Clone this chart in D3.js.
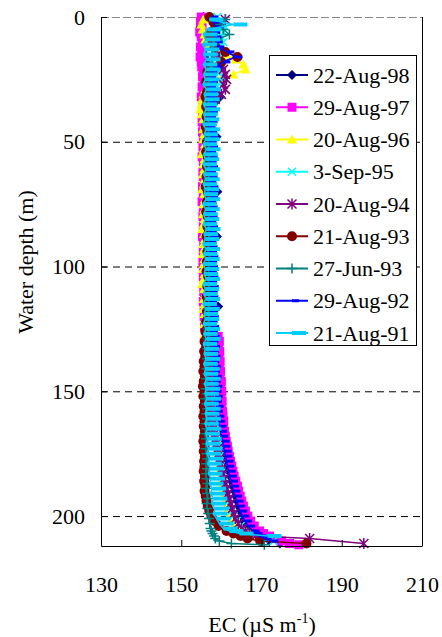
<!DOCTYPE html>
<html>
<head>
<meta charset="utf-8">
<script src="https://cdn.jsdelivr.net/npm/d3@7"></script>
<style>
  body { margin: 0; background: #fff; }
  svg { display: block; }
</style>
</head>
<body>
<svg id="chart" width="442" height="637"></svg>
<script>
// Water depth (m) of the readings; two cast grids (even and odd metres)
const depthsEven = [0,2,4,6,8,10,12,14,16,18,20,22,24,26,28,30,32,34,36,38,
  40,42,44,46,48,50,52,54,56,58,60,62,64,66,68,70,72,74,76,78,
  80,82,84,86,88,90,92,94,96,98,100,102,104,106,108,110,112,114,116,118,
  120,122,124,126,128,130,132,134,136,138,140,142,144,146,148,150,152,154,156,158,
  160,162,164,166,168,170,172,174,176,178,180,182,184,186,188,190,192,194,196,198,
  200,202,204,206,207,208,209,210,211,211.5];
const depthsOdd = [1,3,5,7,9,11,13,15,17,19,21,23,25,27,29,31,33,35,37,39,
  41,43,45,47,49,51,53,55,57,59,61,63,65,67,69,71,73,75,77,79,
  81,83,85,87,89,91,93,95,97,99,101,103,105,107,109,111,113,115,117,119,
  121,123,125,127,129,131,133,135,137,139,141,143,145,147,149,151,153,155,157,159,
  161,163,165,167,169,171,173,175,177,179,181,183,185,187,189,191,193,195,197,199,
  201,203,205,206,207,208,209,210,211,211.5];

const seriesNames = ['22-Aug-98','29-Aug-97','20-Aug-96','3-Sep-95','20-Aug-94','21-Aug-93','27-Jun-93','29-Aug-92','21-Aug-91'];
const seriesColors = ['#000080','#ff00ff','#ffff00','#00ffff','#800080','#800000','#008080','#0000ff','#00ccff'];
const seriesMarkers = ['diamond','square','triangle','cross','star','circle','plus','dash','longdash'];

// EC (uS/m) per cast
const ec98 = [155.5,155,154.8,155.2,155,155.5,155,155.3,155.8,156,
  155.5,155.8,156.2,156.5,157.5,158.5,159.7,158.5,157.5,157,
  157.2,157.6,157,157.4,158.8,157.3,157.1,157.5,157.2,157.6,
  157.1,157.4,157.7,157.2,157.5,159,157.3,157.1,157.6,157.3,
  157.4,157.1,157.6,157.2,158.9,157.4,157.2,157.7,157.3,157.5,
  157.2,157.6,157.3,157.1,157.5,157.8,157.3,157.6,159.2,157.4,
  157.6,157.3,157.8,157.4,157.6,157.9,157.5,157.8,158.8,157.7,
  158,157.7,158.1,157.8,158.2,158,158.4,158.1,158.5,158.3,
  158.6,158.9,159.1,159.4,159.7,160,160.2,160.6,160.8,161.2,
  161.5,161.8,162.2,162.5,162.8,163.2,163.5,163.9,164.2,164.6,
  165,165.6,166.4,167.4,
  168,168.8,170,172,174.6,null];
const ec97 = [155,154.8,155.2,154.6,155,155.3,154.8,155.1,154.7,155,
  155.1,155.5,155.3,155.7,155.2,155.5,155,155.4,155.7,155.3,
  155.5,155.2,155.6,155.3,155.5,155.8,155.4,155.6,155.2,155.5,
  155.7,155.4,155.5,155.8,155.3,155.6,155.5,155.2,155.7,155.5,
  155.4,155.7,155.5,155.8,155.3,155.6,155.9,155.5,155.7,155.4,
  155.6,155.8,155.5,155.7,155.9,155.6,155.8,155.5,155.7,155.9,
  155.7,156,155.8,156.1,159.2,159.5,159.3,159.6,159.4,159.7,
  159.5,159.8,159.6,160,159.8,160.1,159.9,160.2,160,160.3,
  160.4,160.6,160.5,160.8,161,161.2,161.5,161.7,162,162.3,
  162.6,162.9,163.2,163.6,164,164.3,164.7,165.1,165.5,166,
  166.6,167.3,168.2,169.5,
  170.5,172,173.5,175,177,179.3];
const ec96 = [155.5,155,155.3,155.8,156,157,158.5,161,163.5,165.5,
  166,163,159.5,157,156,155.5,155.2,155,154.8,155,
  155.5,155.8,155.4,155.7,155.5,155.9,155.6,155.1,155.8,155.5,
  155.7,155.4,155.8,155.6,155.2,155.7,155.9,155.5,155.7,155.4,
  155.8,155.6,155.2,155.7,155.9,155.5,155.7,155.4,155.8,155.6,
  155.5,155.8,155.6,155.2,155.7,155.9,155.6,155.8,155.5,155.8,
  155.9,155.7,156,155.8,156.1,156.3,156.5,156.7,157,157.4,
  157.6,157.8,158,157.7,158.1,157.9,158.2,158,158.3,158.5,
  158.2,158.3,158.5,158.6,158.8,159,159.1,159.3,159.5,159.7,
  159.8,160,160.2,160.4,160.6,160.9,161.2,161.5,161.8,162.2,
  162.7,163.5,164.5,166,
  167,168.5,null,null,null,null];
const ec95 = [159,160,161,160.5,160,160.5,159.8,160.2,159.5,159.8,
  160,159.5,160.2,159.8,159,158.5,158.2,158,157.8,157.5,
  157.2,157.5,157,157.3,157.6,157.1,157.4,157,157.3,157.5,
  157.2,157.6,157,157.4,157.1,157.5,157.2,157.6,157,157.3,
  157.5,157.1,157.4,157.7,157.2,157.5,157,157.3,157.6,157.2,
  157.4,157.1,157.5,157.2,157.6,157.3,157,157.4,157.6,157.2,
  157.5,157.2,157.4,157.7,157.3,157.5,157.8,157.4,157.6,157.9,
  157.6,157.8,158,157.7,158.1,157.9,158.2,158.4,158.1,158.3,
  158.4,158.5,158.6,158.8,158.9,159,159.2,159.3,159.5,159.6,
  159.8,160,160.2,160.5,160.7,161,161.3,161.7,162,162.5,
  163,163.8,164.8,166,
  167,168.5,170.5,173,null,null];
const ec94 = [161,159.5,158.5,158,157.5,158,158.5,159,159.5,160,
  160.5,161,161.3,160.5,161,160,158.5,157.8,157.5,157.2,
  157,157.3,156.8,157.1,157.4,156.9,157.2,157,157.3,156.8,
  157.1,157.4,156.9,157.2,157,157.3,156.8,157.1,157.4,157,
  157.2,156.9,157.3,157,157.2,156.8,157.1,157.4,157,157.2,
  156.9,157.2,157,157.3,156.8,157.1,157.3,157,157.2,156.9,
  157.1,157.3,157,157.2,157.4,157.1,157.3,157,157.2,157.4,
  157.2,157.4,157.1,157.3,157.5,157.2,157.4,157.6,157.3,157.5,
  157.7,157.9,158.1,158.3,158.5,158.7,159,159.2,159.5,159.8,
  160.1,160.4,160.7,161,161.3,161.6,162,162.3,162.7,163.1,
  163.5,164.2,165,166,
  167,168.5,182,null,195.5,null];
const ec93a = [157,158,158.5,157.5,157,158,158.5,161,164,160,
  157.5,156.5,157,156.2,156.8,156.4,156,156.5,156.2,156.7,
  156.3,156.8,156.1,156.5,157,156.4,156.8,156.2,156.6,157,
  156.4,156.9,156.3,156.7,156.1,156.6,157,156.4,156.8,156.2,
  156.6,157.1,156.5,156.9,156.3,156.7,157.2,156.5,156.9,156.4,
  156.8,156.3,156.7,157.1,156.5,156.9,156.3,156.7,157,156.4,
  156.8,156.2,156.6,156,156.4,155.8,156.2,155.7,156,155.6,
  155.8,155.5,155.9,155.6,155.4,155.8,155.5,155.9,155.6,155.8,
  155.5,155.8,155.6,155.9,155.7,155.5,155.8,155.6,155.9,155.7,
  155.8,155.6,155.9,155.7,156,155.8,156.1,156.3,156.6,157,
  157.5,158.3,159.3,161.3,
  163,164.8,166.5,169.7,181.2,null];
const ec93b = [161,159.5,160.5,162,159,158,157.6,158,157.5,157.8,
  157.2,157.6,157,157.4,157.1,157.5,156.9,157.3,157,157.4,
  156.8,157.2,156.9,157.3,156.7,157.1,156.9,157.2,156.8,157.1,
  156.9,157.3,156.8,157.1,156.7,157,157.2,156.8,157.1,156.9,
  157.2,156.8,157,157.3,156.9,157.1,156.7,157,157.2,156.8,
  157.1,156.9,157.2,156.8,157,157.3,156.9,157.1,156.7,157,
  156.8,157.1,156.7,157,156.6,156.9,156.5,156.8,156.4,156.7,
  156.3,156.6,156.2,156.5,156.1,156.4,156,156.3,156.5,156.2,
  156.4,156.1,156.3,156,156.2,156.4,156.1,156.3,156.5,156.2,
  156.4,156.1,156.3,156.5,156.2,156.4,156.6,156.3,156.5,156.7,
  156.9,157.1,157.3,157.5,
  157.8,158.2,158.5,159.5,162.5,170.7];
const ec92 = [157.5,158,158.5,158,158.3,158.6,159,161.5,163.5,160.5,
  158.5,157.3,157,157.4,156.9,157.3,156.8,157.2,157,157.4,
  156.9,157.3,156.8,157.2,157.5,157,157.4,156.9,157.3,157,
  157.4,156.9,157.3,157,157.5,157.1,157.4,157,157.3,156.9,
  157.3,157,157.4,157.1,157.5,157,157.3,157.1,157.5,157.2,
  157.4,157.1,157.5,157.2,157.6,157.3,157.5,157.2,157.7,157.4,
  157.6,157.3,157.7,157.4,157.8,157.5,157.9,157.6,158,157.7,
  158.1,157.9,158.3,158.1,158.5,158.3,158.6,158.4,158.8,158.6,
  159,159.2,159.5,159.7,160,160.3,160.5,160.8,161,161.3,
  161.5,161.8,162.1,162.4,162.7,163,163.4,163.8,164.2,164.7,
  165.2,165.9,166.7,167.8,
  168.5,169.5,170.8,172.5,null,null];
const ec91 = [157,163,156.5,155.5,156.2,155.4,156,155.6,156.3,155.5,
  156.2,155.6,156,155.4,156.3,155.7,156.1,155.5,156.2,155.6,
  156,155.4,156.2,155.7,156.1,155.5,156.3,155.6,156,155.4,
  156.2,155.6,156.1,155.5,156,155.7,156.2,155.4,156.1,155.6,
  156,155.5,156.3,155.7,156,155.4,156.2,155.6,156.1,155.5,
  156,155.7,156.2,155.5,156,155.6,156.2,155.4,156.1,155.7,
  156,155.5,156.2,155.6,156.3,155.5,156,155.7,156.2,155.6,
  156.1,155.7,156.3,155.8,156.2,155.9,156.4,155.8,156.3,156,
  156.4,155.9,156.5,156.1,156.6,156.2,156.8,156.4,157,156.6,
  157.2,156.8,157.4,157,157.7,157.3,158,157.6,158.4,158,
  158.8,159.5,160.5,162,
  164.5,171.5,null,null,null,null];

const seriesValues = [ec98, ec97, ec96, ec95, ec94, ec93a, ec93b, ec92, ec91];
const seriesDepths = [depthsEven, depthsEven, depthsOdd, depthsEven, depthsOdd, depthsEven, depthsOdd, depthsEven, depthsOdd];

const xTicks = [130, 150, 170, 190, 210];
const yTicks = [0, 50, 100, 150, 200];

const FONT = 'Liberation Serif, Times New Roman, serif';

const chart = (function () {

    let svg, x, y;

    return { init };

    function init() {
        svg = d3.select('#chart');

        // Scales (plot box 101..422 x 17..546)
        x = d3.scaleLinear().domain([130, 210]).range([101, 422]);
        y = d3.scaleLinear().domain([0, 212]).range([17, 546]);

        drawGrid();
        drawSeries();
        drawAxes();
        drawLegend();
    }

    function drawGrid() {
        svg.append('g').selectAll('line').data(yTicks).enter().append('line')
            .attr('x1', x(130)).attr('x2', x(210))
            .attr('y1', (d) => y(d) + 0.5).attr('y2', (d) => y(d) + 0.5)
            .attr('stroke', (d) => d === 0 ? '#888' : '#000')
            .attr('stroke-width', 1)
            .attr('stroke-dasharray', (d) => d === 0 ? '8,3' : '7,5');
        // right border
        svg.append('line')
            .attr('x1', x(210) + 0.5).attr('x2', x(210) + 0.5)
            .attr('y1', y(0)).attr('y2', y(212))
            .attr('stroke', '#000');
    }

    function marker(sel, type, color) {
        if (type === 'diamond') sel.append('path').attr('d', 'M0,-5L5,0L0,5L-5,0Z').attr('fill', color);
        else if (type === 'square') sel.append('rect').attr('x', -4.5).attr('y', -4.5).attr('width', 9).attr('height', 9).attr('fill', color);
        else if (type === 'triangle') sel.append('path').attr('d', 'M0,-5L5,4L-5,4Z').attr('fill', color);
        else if (type === 'cross') sel.append('path').attr('d', 'M-4,-4L4,4M-4,4L4,-4').attr('stroke', color).attr('stroke-width', 1.5).attr('fill', 'none');
        else if (type === 'star') sel.append('path').attr('d', 'M-4.5,-4.5L4.5,4.5M-4.5,4.5L4.5,-4.5M0,-5.5L0,5.5').attr('stroke', color).attr('stroke-width', 1.5).attr('fill', 'none');
        else if (type === 'circle') sel.append('circle').attr('r', 5).attr('fill', color);
        else if (type === 'plus') sel.append('path').attr('d', 'M-5,0L5,0M0,-5L0,5').attr('stroke', color).attr('stroke-width', 1.5).attr('fill', 'none');
        else if (type === 'dash') sel.append('rect').attr('x', 0).attr('y', -1.5).attr('width', 7).attr('height', 3).attr('fill', color);
        else if (type === 'longdash') sel.append('rect').attr('x', 0).attr('y', -2).attr('width', 14).attr('height', 4).attr('fill', color);
    }

    function drawSeries() {
        let line = d3.line().x((p) => x(p.ec)).y((p) => y(p.depth));
        let plot = svg.append('g').attr('class', 'plot');

        seriesValues.forEach((vals, i) => {
            let dep = seriesDepths[i];
            let pts = dep.map((d, k) => ({ depth: d, ec: vals[k] })).filter((p) => p.ec != null);
            let g = plot.append('g');
            g.append('path').datum(pts)
                .attr('d', line)
                .attr('fill', 'none')
                .attr('stroke', seriesColors[i])
                .attr('stroke-width', 1.5);
            g.selectAll('g.m').data(pts).enter().append('g')
                .attr('class', 'm')
                .attr('transform', (p) => `translate(${x(p.ec)},${y(p.depth)})`)
                .each(function () { marker(d3.select(this), seriesMarkers[i], seriesColors[i]); });
        });
    }

    function drawAxes() {
        let yAxis = d3.axisLeft(y).tickValues(yTicks).tickSizeInner(-6).tickSizeOuter(0).tickPadding(16);
        let xAxis = d3.axisBottom(x).tickValues(xTicks).tickSizeInner(-6).tickSizeOuter(0).tickPadding(30);

        let gy = svg.append('g').attr('transform', `translate(${x(130)},0)`).call(yAxis);
        let gx = svg.append('g').attr('transform', `translate(0,${y(212)})`).call(xAxis);

        [gy, gx].forEach((g) => {
            g.attr('font-family', null).attr('font-size', null);
            g.selectAll('text').attr('fill', '#000')
                .style('font-family', FONT).style('font-size', '22px');
            g.selectAll('line, path').attr('stroke', '#000');
        });

        svg.append('text')
            .attr('transform', 'translate(33,262) rotate(-90)')
            .attr('text-anchor', 'middle')
            .style('font-family', FONT).style('font-size', '22px')
            .text('Water depth (m)');

        let xl = svg.append('text')
            .attr('x', 262).attr('y', 632)
            .attr('text-anchor', 'middle')
            .style('font-family', FONT).style('font-size', '22px');
        xl.append('tspan').text('EC (\u00b5S m');
        xl.append('tspan').style('font-size', '14px').attr('dy', -9).text('-1');
        xl.append('tspan').attr('dy', 9).text(')');
    }

    function drawLegend() {
        let lg = svg.append('g').attr('class', 'legend');
        lg.append('rect')
            .attr('x', 269.5).attr('y', 55.5).attr('width', 147).attr('height', 290)
            .attr('fill', '#fff').attr('stroke', '#000');

        let items = lg.selectAll('g.item').data(seriesNames).enter().append('g')
            .attr('class', 'item')
            .attr('transform', (d, i) => `translate(0,${75 + i * 32.25})`);
        items.append('line')
            .attr('x1', 276).attr('x2', 308)
            .attr('stroke', (d, i) => seriesColors[i])
            .attr('stroke-width', 2);
        items.append('g')
            .attr('transform', 'translate(292,0)')
            .each(function (d, i) { marker(d3.select(this), seriesMarkers[i], seriesColors[i]); });
        items.append('text')
            .attr('x', 313).attr('y', 7.5)
            .style('font-family', FONT).style('font-size', '22px')
            .text((d) => d);
    }

})();

chart.init();
</script>
</body>
</html>
